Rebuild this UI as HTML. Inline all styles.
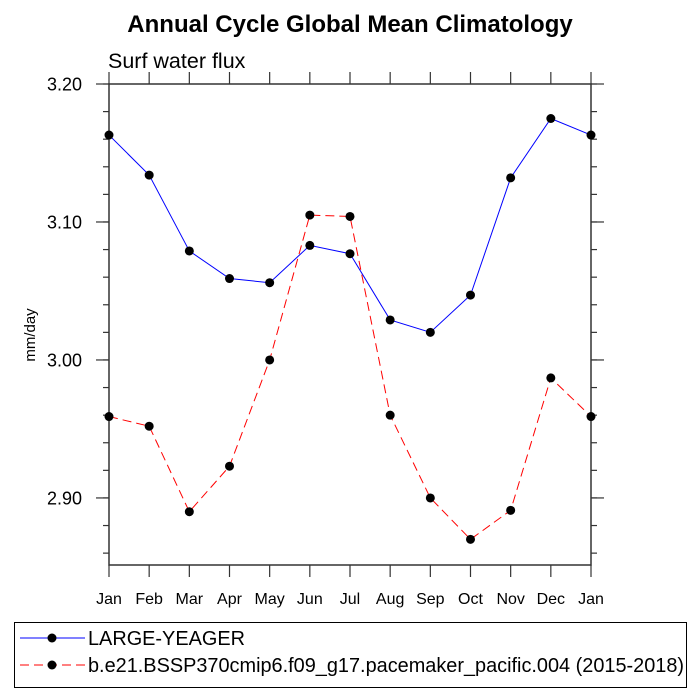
<!DOCTYPE html>
<html><head><meta charset="utf-8"><style>
body{margin:0;background:#fff;}
svg{display:block;font-family:"Liberation Sans",Arial,sans-serif;}
</style></head><body>
<svg id="chart" width="700" height="700" viewBox="0 0 700 700">
<text x="350" y="32" text-anchor="middle" font-size="24" font-weight="bold">Annual Cycle Global Mean Climatology</text>
<text x="108" y="68" font-size="21.5">Surf water flux</text>
<text transform="translate(35,335) rotate(-90)" text-anchor="middle" font-size="15">mm/day</text>
<g id="axes"></g>
<g id="series"></g>
<g>
<rect x="14.5" y="622.5" width="672" height="65" fill="none" stroke="#000" stroke-width="1"/>
<line x1="20" y1="638" x2="85" y2="638" stroke="#0000ff" stroke-width="1"/>
<circle cx="52" cy="638" r="4.5" fill="#000"/>
<text x="88" y="645" font-size="19.9">LARGE-YEAGER</text>
<line x1="20" y1="665" x2="85" y2="665" stroke="#ff0000" stroke-width="1" stroke-dasharray="9,5"/>
<circle cx="52" cy="665" r="4.5" fill="#000"/>
<text x="88" y="672" font-size="19.9">b.e21.BSSP370cmip6.f09_g17.pacemaker_pacific.004 (2015-2018)</text>
</g>
</svg>
<script>
const months=["Jan","Feb","Mar","Apr","May","Jun","Jul","Aug","Sep","Oct","Nov","Dec","Jan"];
const largeYeager=[3.163,3.134,3.079,3.059,3.056,3.083,3.077,3.029,3.020,3.047,3.132,3.175,3.163];
const pacemaker=[2.959,2.952,2.890,2.923,3.000,3.105,3.104,2.960,2.900,2.870,2.891,2.987,2.959];
const yTicks=[2.90,3.00,3.10,3.20];
const yTickLabels=["2.90","3.00","3.10","3.20"];
const X0=109,X1=591,Y0=565,Y1=84,YMIN=2.8514,YMAX=3.20;
function xs(i){return X0+(X1-X0)*i/(months.length-1);}
function ys(v){return Y0-(v-YMIN)/(YMAX-YMIN)*(Y0-Y1);}
const NS="http://www.w3.org/2000/svg";
function mk(tag,attrs,parent){const e=document.createElementNS(NS,tag);for(const k in attrs)e.setAttribute(k,attrs[k]);parent.appendChild(e);return e;}
const axes=document.getElementById('axes');
const frame=mk('rect',{x:X0,y:Y1,width:X1-X0,height:Y0-Y1,fill:'none',stroke:'#333','stroke-width':1.5},axes);


months.forEach((m,i)=>{
  const x=xs(i);
  mk('line',{x1:x,y1:Y0,x2:x,y2:Y0+12,stroke:'#333','stroke-width':1.2},axes);
  mk('line',{x1:x,y1:Y1,x2:x,y2:Y1-12,stroke:'#333','stroke-width':1.2},axes);
  const t=mk('text',{x:x,y:Y0+39,'text-anchor':'middle','font-size':16},axes);
  t.textContent=m;
  
  
});
for(let v=2.86;v<=3.2001;v+=0.02){
  const y=ys(v);
  mk('line',{x1:X0,y1:y,x2:X0-6,y2:y,stroke:'#333','stroke-width':1.2},axes);
  mk('line',{x1:X1,y1:y,x2:X1+6,y2:y,stroke:'#333','stroke-width':1.2},axes);
}
yTicks.forEach((v,i)=>{
  const y=ys(v);
  mk('line',{x1:X0,y1:y,x2:X0-13,y2:y,stroke:'#333','stroke-width':1.2},axes);
  mk('line',{x1:X1,y1:y,x2:X1+13,y2:y,stroke:'#333','stroke-width':1.2},axes);
  const t=mk('text',{x:X0-27,y:y+6.5,'text-anchor':'end','font-size':18},axes);
  t.textContent=yTickLabels[i];
  
  
});
const ser=document.getElementById('series');
function draw(vals,color,dash,name){
  const p=mk('polyline',{points:vals.map((v,i)=>xs(i)+','+ys(v)).join(' '),fill:'none',stroke:color,'stroke-width':1,'stroke-dasharray':dash},ser);
  
  
  vals.forEach((v,i)=>{
    const c=mk('circle',{cx:xs(i),cy:ys(v),r:4.5,fill:'#000'},ser);
    
    
  });
}
draw(largeYeager,'#0000ff','none','large-yeager');
draw(pacemaker,'#ff0000','9,5','pacemaker');
</script>
</body></html>
